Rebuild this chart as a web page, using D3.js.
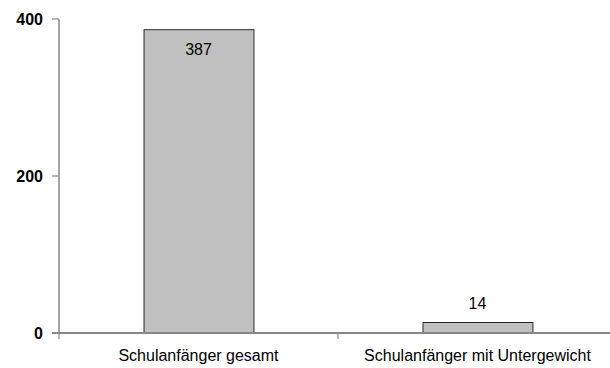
<!DOCTYPE html>
<html><head><meta charset="utf-8">
<script src="https://cdn.jsdelivr.net/npm/d3@7"></script>
<style>
html,body{margin:0;padding:0;background:#fff;}
svg{display:block;}
</style>
</head><body>
<svg id="chart" width="610" height="368"></svg>
<script>
const categories = ["Schulanfänger gesamt", "Schulanfänger mit Untergewicht"];
const values = [387, 14];
const yTicks = [0, 200, 400];

const svg = d3.select("#chart");
const x0 = 59, x1 = 617, yBottom = 333, yTop = 19;
const FONT = "'Liberation Sans',Arial,sans-serif";

const x = d3.scaleBand().domain(categories).range([x0, x1]).paddingInner(0).paddingOuter(0);
const y = d3.scaleLinear().domain([0, 400]).range([yBottom, yTop]);

const bw = x.bandwidth();
const barW = bw * 0.394;

// bars
svg.selectAll("rect.bar").data(values).join("rect")
  .attr("class", "bar")
  .attr("x", (d, i) => x(categories[i]) + (bw - barW) / 2 + 0.5)
  .attr("y", d => y(d) + 0.5)
  .attr("width", barW)
  .attr("height", d => yBottom - y(d))
  .attr("fill", "#c0c0c0")
  .attr("stroke", "#2a2a2a")
  .attr("stroke-width", 1);

// x axis line
svg.append("line").attr("x1", 52).attr("x2", 610).attr("y1", yBottom).attr("y2", yBottom)
  .attr("stroke", "#878787").attr("stroke-width", 2);
// category boundary ticks
const bounds = [x0].concat(categories.map(c => x(c) + bw));
svg.selectAll("line.xt").data(bounds).join("line")
  .attr("class", "xt")
  .attr("x1", d => d).attr("x2", d => d)
  .attr("y1", yBottom).attr("y2", yBottom + 6)
  .attr("stroke", "#878787").attr("stroke-width", 1.2);

// y axis
svg.append("line").attr("x1", x0).attr("x2", x0).attr("y1", yTop).attr("y2", yBottom)
  .attr("stroke", "#878787").attr("stroke-width", 1.5);
svg.selectAll("line.yt").data(yTicks).join("line")
  .attr("class", "yt")
  .attr("x1", 52).attr("x2", x0)
  .attr("y1", d => y(d)).attr("y2", d => y(d))
  .attr("stroke", "#878787").attr("stroke-width", 1.2);
svg.selectAll("text.yl").data(yTicks).join("text")
  .attr("class", "yl")
  .attr("x", 43).attr("y", d => y(d) + 6)
  .attr("text-anchor", "end")
  .attr("font-family", FONT).attr("font-size", 16).attr("font-weight", "bold")
  .attr("fill", "#000")
  .text(d => d);

// category labels
svg.selectAll("text.xl").data(categories).join("text")
  .attr("class", "xl")
  .attr("x", d => x(d) + bw / 2)
  .attr("y", 361)
  .attr("text-anchor", "middle")
  .attr("font-family", FONT).attr("font-size", 16)
  .attr("fill", "#000")
  .text(d => d);

// value labels
svg.selectAll("text.vl").data(values).join("text")
  .attr("class", "vl")
  .attr("x", (d, i) => x(categories[i]) + bw / 2)
  .attr("y", d => d > 100 ? y(d) + 26 : y(d) - 13)
  .attr("text-anchor", "middle")
  .attr("font-family", FONT).attr("font-size", 16)
  .attr("fill", "#000")
  .text(d => d);
</script>
</body></html>
